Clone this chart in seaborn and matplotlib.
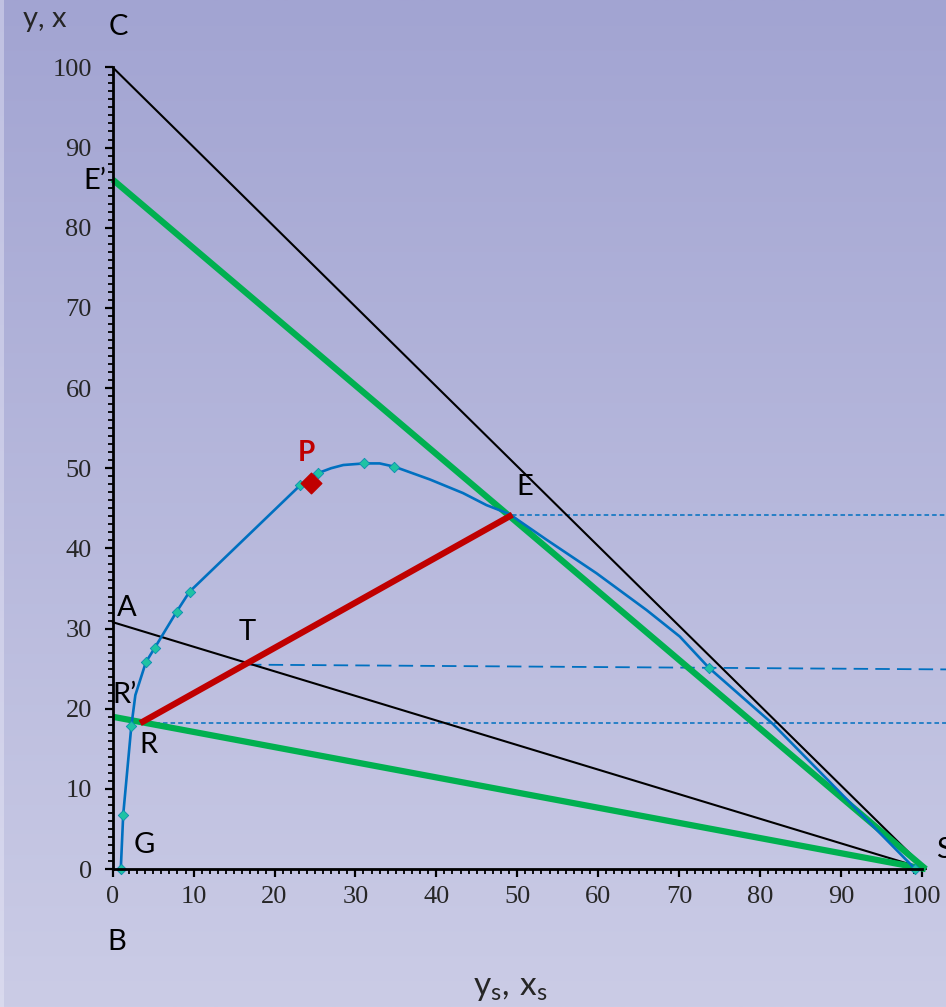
import numpy as np
import pandas as pd
import matplotlib
matplotlib.use('Agg')
import matplotlib.pyplot as plt
import seaborn as sns

# curve (equilibrium) - marked points
mark_x = [1.0, 1.3, 2.3, 4.1, 5.2, 7.9, 9.5, 23.2, 25.4, 31.1, 34.8, 73.7, 99.2]
mark_y = [0.0, 6.8, 17.8, 25.8, 27.6, 32.1, 34.6, 47.9, 49.4, 50.6, 50.2, 25.1, 0.0]
# line through the same points plus unmarked points
curve_x = [1.0, 1.3, 2.3, 2.8, 4.1, 5.2, 7.9, 9.5, 23.2, 25.4, 27.0, 28.5, 31.1, 33.0, 34.8,
           39.2, 43.3, 46.2, 49.0, 53.6, 59.8, 66.0, 70.1, 73.7, 81.6, 99.2]
curve_y = [0.0, 6.8, 17.8, 21.7, 25.8, 27.6, 32.1, 34.6, 47.9, 49.4, 50.0, 50.4, 50.6, 50.6, 50.2,
           48.6, 46.9, 45.4, 44.3, 41.1, 36.9, 32.3, 29.0, 25.1, 18.1, 0.0]

# key points
C = (0, 100)
S = (100.5, 0)
A = (0, 30.8)
E_prime = (0, 86.0)
R_prime = (0, 19.0)
E = (49.4, 44.2)
R = (3.4, 18.2)
T = (16.6, 25.5)
P = (24.5, 48.1)
x_end = 104
tie_T_end = 24.9

# labels (text, x, y)
point_labels = [
    ('C', 0.7, 105.0), ('E\u2019', -2.2, 85.8), ('A', 1.7, 32.6), ('T', 16.6, 29.6),
    ('R\u2019', 1.5, 21.7), ('R', 4.4, 15.5), ('G', 3.9, 3.0), ('B', 0.5, -9.1),
    ('S', 102.7, 2.4), ('E', 50.9, 47.6),
]

sns.set_style('white')
plt.rcParams['font.family'] = ['Lato', 'DejaVu Sans']
plt.rcParams['mathtext.fontset'] = 'custom'
plt.rcParams['mathtext.rm'] = 'Lato'
plt.rcParams['mathtext.it'] = 'Lato'

fig = plt.figure(figsize=(9.46, 10.07), dpi=100)

# background gradient
bg = fig.add_axes([0, 0, 1, 1])
top = np.array([0xA2, 0xA4, 0xD2]) / 255
bot = np.array([0xCB, 0xCC, 0xE6]) / 255
t = np.linspace(0, 1, 400)[:, None]
grad = top * (1 - t) + bot * t
img = np.repeat(grad[:, None, :], 946, axis=1)
img[:, :4, :] = img[:, :4, :] * 0.6 + 0.4 * np.array([0.93, 0.93, 0.98])
bg.imshow(img, aspect='auto', extent=[0, 1, 0, 1])
bg.axis('off')

ax = fig.add_axes([0, 0, 1, 1])
ax.set_facecolor('none')
ax.set_xlim(-13.93, 103.0)
ax.set_ylim(-17.2, 108.4)

# straight construction lines
ax.plot([C[0], S[0]], [C[1], S[1]], color='black', lw=1.5, zorder=3)
ax.plot([A[0], S[0]], [A[1], S[1]], color='black', lw=1.5, zorder=3)
ax.plot([E_prime[0], S[0]], [E_prime[1], S[1]], color='#00B050', lw=4.5, zorder=4, solid_capstyle='butt')
ax.plot([R_prime[0], S[0]], [R_prime[1], S[1]], color='#00B050', lw=4.5, zorder=4, solid_capstyle='butt')
ax.plot([R[0], E[0]], [R[1], E[1]], color='#C00000', lw=4.5, zorder=6, solid_capstyle='butt')

# tie lines to the right
ax.plot([E[0], x_end], [E[1], E[1]], color='#0070C0', lw=1.1, ls=(0, (3, 2)), zorder=2)
ax.plot([R[0], x_end], [R[1], R[1]], color='#0070C0', lw=1.1, ls=(0, (3, 2)), zorder=2)
ax.plot([T[0], x_end], [T[1], tie_T_end], color='#0070C0', lw=1.3, ls=(0, (8, 4)), zorder=2)

# equilibrium curve
sns.lineplot(x=curve_x, y=curve_y, sort=False, estimator=None, color='#0070C0', lw=1.9, ax=ax, zorder=5)
sns.scatterplot(x=mark_x, y=mark_y, marker='D', s=28, color='#1FC3A3', edgecolor='#0A8FB0',
                linewidth=0.6, ax=ax, zorder=7)
ax.scatter([P[0]], [P[1]], marker='D', s=110, color='#C00000', zorder=8)

# axes
for side in ['top', 'right']:
    ax.spines[side].set_visible(False)
ax.spines['left'].set_position(('data', 0))
ax.spines['bottom'].set_position(('data', 0))
ax.spines['left'].set_bounds(0, 100)
ax.spines['bottom'].set_bounds(0, 100)
for side in ['left', 'bottom']:
    ax.spines[side].set_linewidth(2)
    ax.spines[side].set_color('black')
    ax.spines[side].set_zorder(9)
ax.set_xticks(range(0, 101, 10))
ax.set_yticks(range(0, 101, 10))
ax.set_xticks(range(0, 101), minor=True)
ax.set_yticks(range(0, 101), minor=True)
ax.tick_params(which='both', bottom=True, left=True, top=False, right=False)
ax.tick_params(which='major', direction='out', length=6, width=1.6, labelsize=19, color='black')
ax.tick_params(which='minor', direction='out', length=3.5, width=1.3, color='black')
ax.tick_params(axis='x', which='major', pad=6)
ax.tick_params(axis='y', which='major', pad=9)
for lbl in ax.get_xticklabels() + ax.get_yticklabels():
    lbl.set_fontfamily('Liberation Serif')

# text
for txt, tx, ty in point_labels:
    ax.text(tx, ty, txt, fontsize=21, ha='center', va='center', color='black', zorder=10)
ax.text(P[0] - 0.6, P[1] + 3.8, 'P', fontsize=20, fontweight='bold', color='#C00000',
        ha='center', va='center', zorder=10)
ax.text(-8.4, 106.0, 'y, x', fontsize=21, ha='center', va='center')
ax.text(49.1, -14.8, r'$\mathrm{y_s,\,x_s}$', fontsize=24, ha='center', va='center')

fig.savefig('out.png', dpi=100)
